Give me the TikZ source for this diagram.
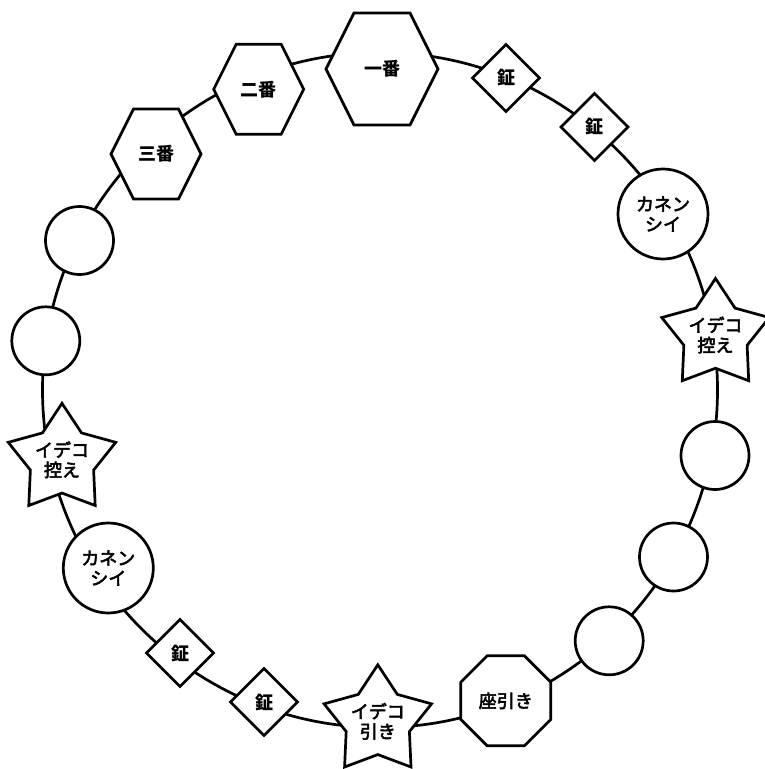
\documentclass[tikz,border=0pt]{standalone}
\usepackage{fontspec}
\newfontfamily\cjk{Noto Sans CJK JP}
\newfontfamily\cjkmed[FakeBold=3]{Noto Sans CJK JP}
\usetikzlibrary{shapes.geometric}
\newcommand\hexshape[4]{%
  \draw[outline, shift={(#1,#2)}] (-#3/2,0) -- (-#3/4,-#4/2) -- (#3/4,-#4/2) -- (#3/2,0) -- (#3/4,#4/2) -- (-#3/4,#4/2) -- cycle;}
\begin{document}
\begin{tikzpicture}[x=1pt,y=-1pt,
  outline/.style={draw=black, line width=2.7pt, fill=white, line join=miter},
  lbl/.style={font=\cjkmed\fontsize{18}{20}\selectfont, align=center, inner sep=0pt},
  blbl/.style={lbl, font=\cjk\bfseries\fontsize{18}{20}\selectfont},
  ringline/.style={draw=black, line width=2.7pt},
  smallring/.style={outline, circle, inner sep=0pt, minimum size=68pt, lbl},
  bigring/.style={outline, circle, inner sep=0pt, minimum size=90pt, lbl},
  gong/.style={outline, diamond, minimum width=68pt, minimum height=68pt, inner sep=0pt, blbl},
  starnode/.style={outline, star, star points=5, star point ratio=1.7, minimum size=113pt, inner sep=0pt},
  octnode/.style={outline, regular polygon, regular polygon sides=8, minimum size=97.4pt, inner sep=0pt, lbl},
]
\useasboundingbox (0,0) rectangle (764,769);
\coordinate (c) at (380,390);
\draw[ringline] (c) circle[radius=337.5pt];

% hexagons
\hexshape{382}{69}{112}{112}
\node[blbl] (ichiban) at (382,69) {一番};
\hexshape{258.7}{89.3}{90}{90}
\node[blbl] (niban) at (258.7,89.3) {二番};
\hexshape{156}{154}{90}{90}
\node[blbl] (sanban) at (156,154) {三番};

% left side
\node[smallring] (l1) at (79.5,240.5) {};
\node[smallring] (l2) at (45.8,340.8) {};
\node[starnode] (sl) at (62,459.8) {};
\node[lbl] (slt) at (sl.center) {イデコ\\控え};
\node[bigring] (kl) at (108.3,568) {カネン\\シイ};
\node[gong] (gl1) at (180,653) {鉦};
\node[gong] (gl2) at (264,702) {鉦};

% bottom
\node[starnode] (sb) at (377.8,721.3) {};
\node[lbl] (sbt) at (sb.center) {イデコ\\引き};
\node[octnode] (za) at (505.8,700.8) {座引き};

% right side
\node[smallring] (r3) at (609.2,640.8) {};
\node[smallring] (r2) at (673.5,557) {};
\node[smallring] (r1) at (715,455.5) {};
\node[starnode] (sr) at (715.5,335) {};
\node[lbl] (srt) at (sr.center) {イデコ\\控え};
\node[bigring] (kr) at (663,214) {カネン\\シイ};
\node[gong] (gr2) at (594.5,127) {鉦};
\node[gong] (gr1) at (506,78) {鉦};
\end{tikzpicture}
\end{document}
